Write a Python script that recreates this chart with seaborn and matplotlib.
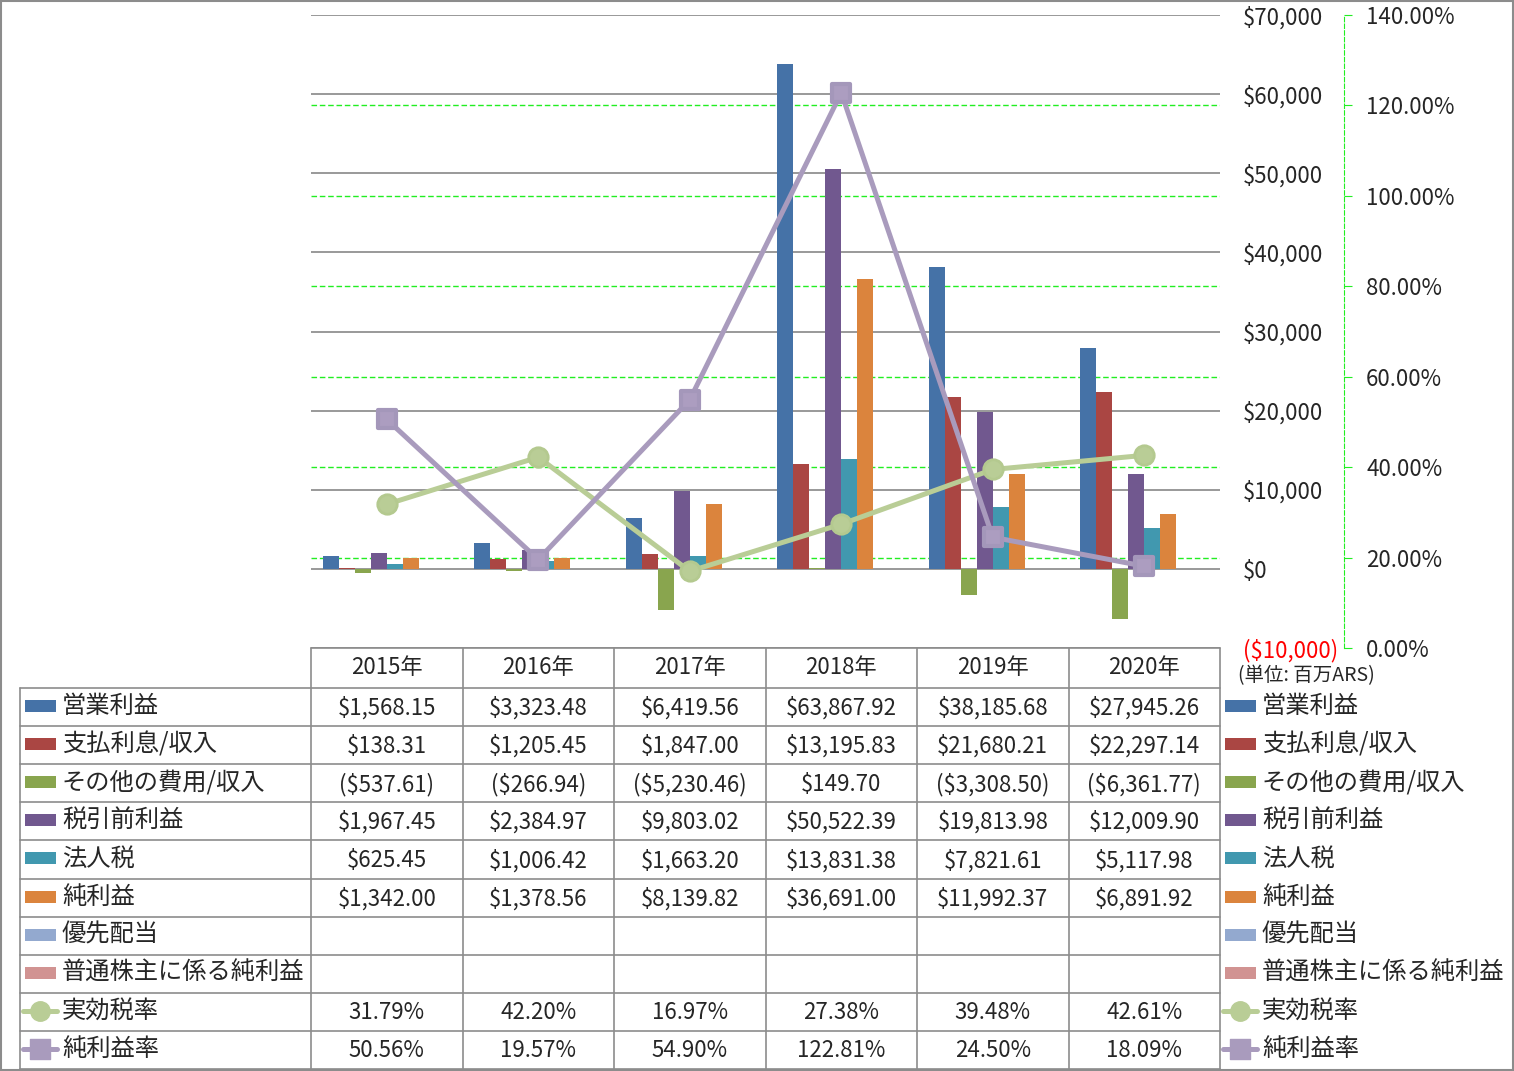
import numpy as np
import pandas as pd
import matplotlib
matplotlib.use("Agg")
import matplotlib.pyplot as plt
import seaborn as sns
from matplotlib.markers import MarkerStyle
from matplotlib.patches import Rectangle
import matplotlib.transforms as mtransforms

# data (百万ARS)
years = ["2015年", "2016年", "2017年", "2018年", "2019年", "2020年"]
op_income = [1568.15, 3323.48, 6419.56, 63867.92, 38185.68, 27945.26]
interest = [138.31, 1205.45, 1847.00, 13195.83, 21680.21, 22297.14]
other = [-537.61, -266.94, -5230.46, 149.70, -3308.50, -6361.77]
pretax = [1967.45, 2384.97, 9803.02, 50522.39, 19813.98, 12009.90]
tax = [625.45, 1006.42, 1663.20, 13831.38, 7821.61, 5117.98]
net_income = [1342.00, 1378.56, 8139.82, 36691.00, 11992.37, 6891.92]
pref_div = [None] * 6
common_net = [None] * 6
tax_rate = [31.79, 42.20, 16.97, 27.38, 39.48, 42.61]
net_margin = [50.56, 19.57, 54.90, 122.81, 24.50, 18.09]

bar_names = ["営業利益", "支払利息/収入", "その他の費用/収入", "税引前利益", "法人税",
             "純利益", "優先配当", "普通株主に係る純利益"]
bar_values = [op_income, interest, other, pretax, tax, net_income, pref_div, common_net]
bar_colors = ["#4572A7", "#AA4643", "#89A54E", "#71588F", "#4198AF", "#DB843D",
              "#93A9CF", "#D19392"]
line_names = ["実効税率", "純利益率"]
line_values = [tax_rate, net_margin]
line_colors = ["#B9CD96", "#A99BBD"]

rows = []
for name, vals in zip(bar_names, bar_values):
    for y, v in zip(years, vals):
        if v is not None:
            rows.append({"year": y, "series": name, "value": v})
df = pd.DataFrame(rows)

sns.set_style("white")
plt.rcParams["font.family"] = ["Noto Sans CJK JP", "DejaVu Sans"]

W, H = 1514, 1071
fig = plt.figure(figsize=(W / 100, H / 100), dpi=100)
ax = fig.add_axes([311 / W, 1 - 648 / H, 909 / W, 633 / H])

sns.barplot(data=df, x="year", y="value", hue="series", hue_order=bar_names,
            order=years, palette=dict(zip(bar_names, bar_colors)), width=0.845,
            gap=0, saturation=1, errorbar=None, legend=False, linewidth=0, ax=ax)
ax.set_ylim(-10000, 70000)
ax.set_xticks([])
ax.set_xlabel("")
ax.set_ylabel("")
ax.grid(axis="y", color="#878787", lw=1.2, ls="-")
ax.set_axisbelow(True)
for s in ax.spines.values():
    s.set_visible(False)

# secondary axis for the ratios
ax2 = ax.twinx()
ax2.set_ylim(0, 140)
pct_ticks = np.arange(0, 141, 20)
ax2.set_yticks(pct_ticks)
ax2.set_yticklabels([f"{t:.2f}%" for t in pct_ticks])
for s in ["top", "left", "bottom"]:
    ax2.spines[s].set_visible(False)
ax2.spines["right"].set_position(("axes", (1344 - 311) / 909))
ax2.spines["right"].set_color("#22EE22")
ax2.spines["right"].set_linestyle((0, (4, 2)))
ax2.tick_params(axis="y", length=6, color="#22EE22", pad=10, labelsize=16)

# primary tick labels sit just right of the plot area
dollar_ticks = list(range(-10000, 70001, 10000))
ax.set_yticks(dollar_ticks)
ax.set_yticklabels([f"${v:,.0f}" if v >= 0 else f"(${-v:,.0f})" for v in dollar_ticks])
ax.yaxis.tick_right()
ax.tick_params(axis="y", left=False, right=False, labelleft=False, labelright=True,
               length=0, pad=16.5, labelsize=16)
ax.get_yticklabels()[0].set_color("red")

# dashed green gridlines of the ratio axis, drawn behind the bars
blend = mtransforms.blended_transform_factory(ax.transAxes, ax2.transData)
for t in pct_ticks[1:-1]:
    ax.plot([0, 1], [t, t], transform=blend, color="#22EE22", lw=1,
            ls=(0, (4, 2)), zorder=0.6)

xpos = np.arange(len(years))
sq = MarkerStyle("s", joinstyle="round")
sns.lineplot(x=xpos, y=tax_rate, ax=ax2, color=line_colors[0], lw=3.6,
             marker="o", ms=14, mfc=line_colors[0], mec="#B4C98F", mew=2,
             legend=False)
sns.lineplot(x=xpos, y=net_margin, ax=ax2, color=line_colors[1], lw=3.6,
             marker=sq, ms=13, mfc="#AC9DC0", mec="#A497BA", mew=3,
             legend=False)
ax.set_xlim(-0.5, len(years) - 0.5)
ax2.set_ylabel("")

# overlay in pixel coordinates for the data table
ov = fig.add_axes([0, 0, 1, 1])
ov.set_xlim(0, W)
ov.set_ylim(H, 0)
ov.axis("off")
ov.patch.set_visible(False)

gc = "#8C8C8C"
col_x = np.linspace(311, 1220, len(years) + 1)
row_y = np.linspace(688, 1069, 11)
ov.plot([311, 1220], [648, 648], color=gc, lw=1.2)
for x in col_x:
    ov.plot([x, x], [648, 1069], color=gc, lw=1.2)
ov.plot([20, 20], [688, 1069], color=gc, lw=1.2)
for y in row_y:
    ov.plot([20, 1220], [y, y], color=gc, lw=1.2)

fs = 16
for i, yr in enumerate(years):
    ov.text((col_x[i] + col_x[i + 1]) / 2, 668, yr, ha="center", va="center", fontsize=fs)


def money(v):
    return f"${v:,.2f}" if v >= 0 else f"(${-v:,.2f})"


all_names = bar_names + line_names
for r, name in enumerate(all_names):
    yc = (row_y[r] + row_y[r + 1]) / 2
    for x0 in (25, 1225):
        if r < len(bar_names):
            ov.add_patch(Rectangle((x0, yc - 7), 31, 12, color=bar_colors[r], lw=0))
        else:
            c = line_colors[r - len(bar_names)]
            ov.plot([x0 - 2, x0 + 32], [yc - 1, yc - 1], color=c, lw=3.6)
            mk = "o" if r == len(bar_names) else sq
            ov.plot([x0 + 15], [yc - 1], marker=mk, ms=14, color=c, mec=c)
        ov.text(x0 + 37, yc - 1, name, ha="left", va="center", fontsize=17.5)
    if r < len(bar_names):
        vals = bar_values[r]
        txt = [money(v) if v is not None else "" for v in vals]
    else:
        vals = line_values[r - len(bar_names)]
        txt = [f"{v:.2f}%" for v in vals]
    for i, t in enumerate(txt):
        ov.text((col_x[i] + col_x[i + 1]) / 2, yc + 1, t, ha="center", va="center", fontsize=fs)

ov.text(1238, 676, "(単位: 百万ARS)", ha="left", va="center", fontsize=14)
ov.add_patch(Rectangle((0.5, 0.5), W - 1.5, H - 1.5, fill=False, ec="#8C8C8C", lw=1.5))

fig.savefig("out.png", dpi=100)
